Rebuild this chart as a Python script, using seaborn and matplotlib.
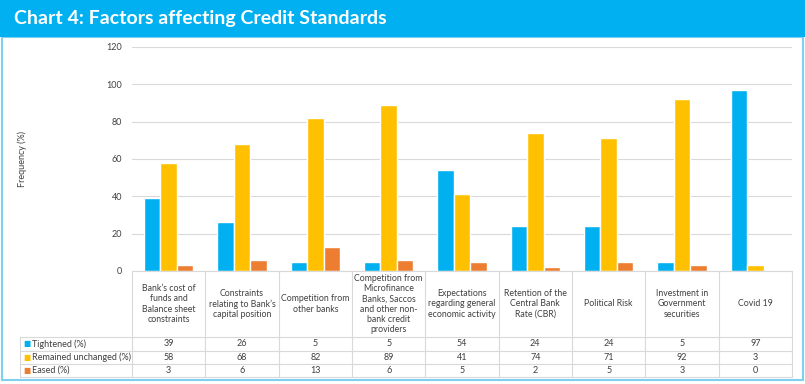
import pandas as pd
import matplotlib.pyplot as plt
import seaborn as sns
from matplotlib.patches import Rectangle

# Data
factors = [
    "Bank\u2019s cost of\nfunds and\nBalance sheet\nconstraints",
    "Constraints\nrelating to Bank\u2019s\ncapital position",
    "Competition from\nother banks",
    "Competition from\nMicrofinance\nBanks, Saccos\nand other non-\nbank credit\nproviders",
    "Expectations\nregarding general\neconomic activity",
    "Retention of the\nCentral Bank\nRate (CBR)",
    "Political Risk",
    "Investment in\nGovernment\nsecurities",
    "Covid 19",
]
series = ["Tightened (%)", "Remained unchanged (%)", "Eased (%)"]
tightened = [39, 26, 5, 5, 54, 24, 24, 5, 97]
unchanged = [58, 68, 82, 89, 41, 74, 71, 92, 3]
eased = [3, 6, 13, 6, 5, 2, 5, 3, 0]
colors = ["#00B0F0", "#FFC000", "#ED7D31"]

values = [tightened, unchanged, eased]
df = pd.DataFrame({
    "factor": factors * 3,
    "series": [s for s in series for _ in factors],
    "value": tightened + unchanged + eased,
})

sns.set_style("white")
plt.rcParams["font.family"] = ["Lato", "DejaVu Sans"]

W, H = 805, 384
fig = plt.figure(figsize=(W / 100, H / 100), dpi=100)

# axes box in pixels: left 132, right 792, top 47, bottom 271
ax_left, ax_right, ax_top, ax_bot = 132, 792, 47, 271
ax = fig.add_axes([ax_left / W, 1 - ax_bot / H, (ax_right - ax_left) / W, (ax_bot - ax_top) / H])

sns.barplot(data=df, x="factor", y="value", hue="series", palette=colors,
            width=0.67, saturation=1, legend=False, ax=ax)

ax.set_xlim(-0.5, len(factors) - 0.5)
ax.set_ylim(0, 120)
ax.set_yticks(range(0, 121, 20))
ax.set_xticks([])
ax.set_xlabel("")
ax.set_ylabel("")
ax.yaxis.grid(True, color="#D9D9D9", linewidth=0.8)
ax.set_axisbelow(True)
for s in ["left", "top", "right"]:
    ax.spines[s].set_visible(False)
ax.spines["bottom"].set_color("#D9D9D9")
ax.tick_params(axis="y", length=0, pad=7, labelsize=6.5, labelcolor="#404040")

# --- data table under the chart ---
grid_c = "#D9D9D9"
txt_c = "#404040"
tr = ax.get_xaxis_transform()
ax_h = ax_bot - ax_top


def fy(py):
    return (ax_bot - py) / ax_h


px_per_cat = (ax_right - ax_left) / len(factors)
x_lab = -0.5 - (ax_left - 20) / px_per_cat
x_end = len(factors) - 0.5
rows_px = [337, 350.5, 364, 377]

# horizontal lines
for py in rows_px:
    ax.plot([x_lab, x_end], [fy(py)] * 2, color=grid_c, lw=0.8, transform=tr, clip_on=False)
# vertical lines
for i in range(len(factors) + 1):
    ax.plot([i - 0.5] * 2, [0, fy(377)], color=grid_c, lw=0.8, transform=tr, clip_on=False)
ax.plot([x_lab] * 2, [fy(337), fy(377)], color=grid_c, lw=0.8, transform=tr, clip_on=False)

# headers
for i, name in enumerate(factors):
    ax.text(i, fy((271 + 337) / 2), name, transform=tr, ha="center", va="center",
            fontsize=6.3, color=txt_c, linespacing=1.15)

# rows
for r, (lab, vals, c) in enumerate(zip(series, values, colors)):
    yc = fy((rows_px[r] + rows_px[r + 1]) / 2)
    ax.text(x_lab + 0.04, yc, "\u25a0", transform=tr, ha="left", va="center",
            fontsize=5.5, color=c, family="DejaVu Sans")
    ax.text(x_lab + 0.16, yc, lab, transform=tr, ha="left", va="center",
            fontsize=6.5, color=txt_c)
    for i, v in enumerate(vals):
        ax.text(i, yc, str(v), transform=tr, ha="center", va="center",
                fontsize=6.5, color=txt_c)

# y label
fig.text(22 / W, 1 - 159 / H, "Frequency (%)", rotation=90, ha="center", va="center",
         fontsize=6.5, color=txt_c)

# frame and title banner
fig.patches.append(Rectangle((2 / W, 4 / H), 801 / W, (H - 4 - 37) / H, transform=fig.transFigure,
                             fill=False, edgecolor="#7FCFEF", lw=1.5))
fig.patches.append(Rectangle((0, 1 - 37 / H), 1, 37 / H, transform=fig.transFigure,
                             facecolor="#00B0F0", edgecolor="none"))
fig.text(14 / W, 1 - 18.5 / H, "Chart 4: Factors affecting Credit Standards", color="white",
         fontsize=14, fontweight="bold", ha="left", va="center")

fig.savefig("out.png", dpi=100)
